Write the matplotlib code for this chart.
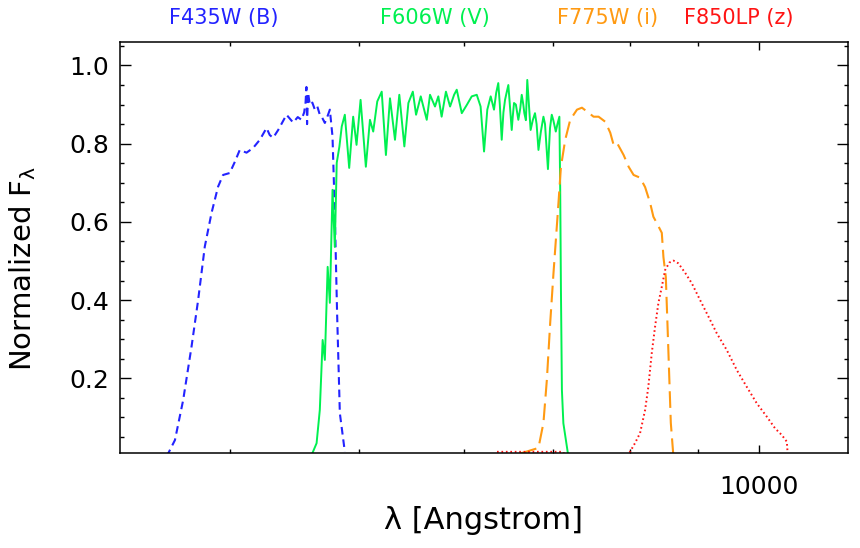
import numpy as np
import matplotlib
matplotlib.use('Agg')
import matplotlib.pyplot as plt
from matplotlib.ticker import FixedLocator, NullFormatter, MultipleLocator, FuncFormatter

# F435W (B) throughput
b_wave = [3581, 3633, 3685, 3739, 3782, 3826, 3871, 3915, 3949, 3995, 4031, 4065, 4113, 4160,
          4209, 4235, 4258, 4282, 4307, 4345, 4408, 4459, 4495, 4524, 4545, 4556, 4563, 4568,
          4576, 4590, 4610, 4630, 4650, 4670, 4690, 4711, 4735, 4752, 4774, 4793, 4812, 4835, 4877]
b_flux = [0.0, 0.042, 0.144, 0.281, 0.400, 0.537, 0.623, 0.690, 0.720, 0.725, 0.754, 0.784, 0.777, 0.789,
          0.810, 0.826, 0.840, 0.822, 0.815, 0.835, 0.874, 0.854, 0.868, 0.861, 0.880, 0.905, 0.945, 0.850,
          0.930, 0.899, 0.905, 0.887, 0.895, 0.874, 0.866, 0.853, 0.872, 0.887, 0.818, 0.623, 0.367, 0.111, 0.012]

# F606W (V) throughput
v_wave = [4599, 4644, 4670, 4693, 4711, 4734, 4752, 4774, 4793, 4809, 4831, 4851, 4877, 4914, 4948,
          4977, 5012, 5058, 5094, 5123, 5159, 5199, 5237, 5274, 5320, 5360, 5407, 5445, 5487, 5518,
          5563, 5621, 5653, 5702, 5735, 5768, 5811, 5853, 5894, 5921, 5973, 6025, 6077, 6130, 6171,
          6208, 6243, 6280, 6316, 6340, 6363, 6380, 6401, 6420, 6438, 6455, 6475, 6495, 6513, 6525,
          6539, 6560, 6588, 6610, 6627, 6645, 6657, 6675, 6691, 6710, 6730, 6755, 6781, 6800, 6822,
          6850, 6881, 6900, 6935, 6960, 6981, 7000, 7030, 7050, 7074, 7084, 7093, 7105, 7123, 7185]
v_flux = [0.0, 0.034, 0.119, 0.298, 0.247, 0.485, 0.393, 0.682, 0.536, 0.751, 0.792, 0.844, 0.874, 0.738, 0.869,
          0.797, 0.912, 0.741, 0.861, 0.831, 0.908, 0.933, 0.771, 0.916, 0.810, 0.925, 0.793, 0.904, 0.933, 0.874,
          0.921, 0.861, 0.925, 0.895, 0.921, 0.869, 0.933, 0.895, 0.925, 0.938, 0.878, 0.899, 0.921, 0.925, 0.895,
          0.780, 0.887, 0.921, 0.887, 0.930, 0.955, 0.900, 0.810, 0.880, 0.912, 0.930, 0.950, 0.890, 0.835, 0.870,
          0.904, 0.900, 0.861, 0.890, 0.925, 0.900, 0.878, 0.860, 0.963, 0.900, 0.835, 0.860, 0.878, 0.850, 0.784,
          0.830, 0.869, 0.850, 0.735, 0.840, 0.874, 0.860, 0.831, 0.850, 0.869, 0.682, 0.426, 0.170, 0.085, 0.0]

# F775W (i) throughput
i_wave = [6349, 6500, 6645, 6822, 6881, 6922, 6962, 7002, 7051, 7093, 7146, 7208, 7293, 7356, 7441, 7506,
          7571, 7660, 7726, 7771, 7817, 7907, 7976, 8045, 8136, 8207, 8278, 8326, 8375, 8448, 8472, 8507,
          8531, 8556, 8581, 8620]
i_flux = [0.0, 0.003, 0.010, 0.022, 0.086, 0.196, 0.341, 0.469, 0.613, 0.741, 0.810, 0.861, 0.887, 0.892, 0.879, 0.869,
          0.869, 0.856, 0.828, 0.797, 0.802, 0.771, 0.741, 0.720, 0.713, 0.689, 0.649, 0.613, 0.597, 0.572, 0.510, 0.459,
          0.341, 0.214, 0.086, 0.0]

# F850LP (z) throughput
z_wave = [6349, 7119, 7150, 7960, 7995, 8064, 8136, 8207, 8253, 8302, 8350, 8398, 8448, 8497, 8560, 8620,
          8694, 8796, 8899, 9028, 9159, 9293, 9456, 9621, 9789, 9960, 10134, 10281, 10401, 10492, 10505]
z_flux = [0.012, 0.012, 0.0, 0.0, 0.012, 0.034, 0.060, 0.119, 0.178, 0.264, 0.332, 0.392, 0.434, 0.477, 0.496, 0.501,
          0.494, 0.470, 0.443, 0.400, 0.358, 0.315, 0.272, 0.221, 0.178, 0.136, 0.102, 0.072, 0.055, 0.038, 0.012]

labels = ['F435W (B)', 'F606W (V)', 'F775W (i)', 'F850LP (z)']
colors = ['#2323ff', '#00f050', '#ff9a12', '#ff1414']

plt.rcParams['lines.scale_dashes'] = False

fig = plt.figure(figsize=(8.6, 5.48), dpi=100)
ax = fig.add_axes([120/860, 1-453/548, 728/860, 411/548])

ax.plot(b_wave, b_flux, color=colors[0], lw=1.5, dashes=(5.5, 3.5))
ax.plot(v_wave, v_flux, color=colors[1], lw=1.4)
ax.plot(i_wave, i_flux, color=colors[2], lw=1.5, dashes=(12, 5))
ax.plot(z_wave, z_flux, color=colors[3], lw=1.4, dashes=(1.2, 2.0))

ax.set_xscale('log')
ax.set_xlim(3303, 11666)
ax.set_ylim(0.009, 1.06)

ax.xaxis.set_major_locator(FixedLocator([10000]))
ax.xaxis.set_major_formatter(FuncFormatter(lambda v, p: '%d' % v))
ax.xaxis.set_minor_locator(FixedLocator([4000, 5000, 6000, 7000, 8000, 9000]))
ax.xaxis.set_minor_formatter(NullFormatter())
ax.yaxis.set_major_locator(MultipleLocator(0.2))
ax.yaxis.set_minor_locator(MultipleLocator(0.05))
ax.yaxis.set_major_formatter(FuncFormatter(lambda v, p: '%.1f' % v))

ax.tick_params(which='both', direction='in', top=True, right=True, labelsize=18, width=1)
ax.tick_params(axis='y', which='major', length=8, pad=8)
ax.tick_params(axis='x', which='major', length=6, pad=16)
ax.tick_params(which='minor', length=3)
for s in ax.spines.values():
    s.set_linewidth(1.1)

ax.set_xlabel('λ [Angstrom]', fontsize=22, labelpad=5)
ax.set_ylabel(r'Normalized F$_\mathregular{λ}$', fontsize=21)
ax.yaxis.set_label_coords(-0.113, 0.45)

xs = [224, 435, 608, 739]
for t, c, x in zip(labels, colors, xs):
    fig.text(x/860, 1-18/548, t, color=c, fontsize=15, ha='center', va='center')

plt.savefig('out.png', dpi=100)
